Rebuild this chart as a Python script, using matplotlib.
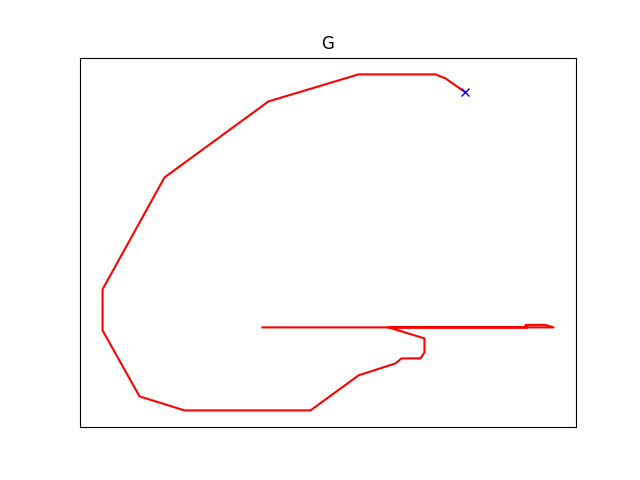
import matplotlib
matplotlib.use("Agg")
import matplotlib.pyplot as plt

# stroke of the letter G
xs = [262, 553, 545, 525, 527, 388, 424, 424, 420, 401, 395, 358, 310, 184, 139,
      102, 102, 164, 268, 358, 435, 445, 465]
ys = [153, 153, 155.5, 155.5, 153, 153, 142, 128, 122, 122, 117, 105, 70, 70, 84,
      150, 191, 303, 379, 406, 406, 402, 388]

fig, ax = plt.subplots(figsize=(6.4, 4.8))
ax.plot(xs, ys, color="red", linewidth=1.5)
ax.plot(xs[-1], ys[-1], "bx")
ax.set_title("G")
ax.set_xticks([])
ax.set_yticks([])
plt.savefig("out.png", dpi=100)
